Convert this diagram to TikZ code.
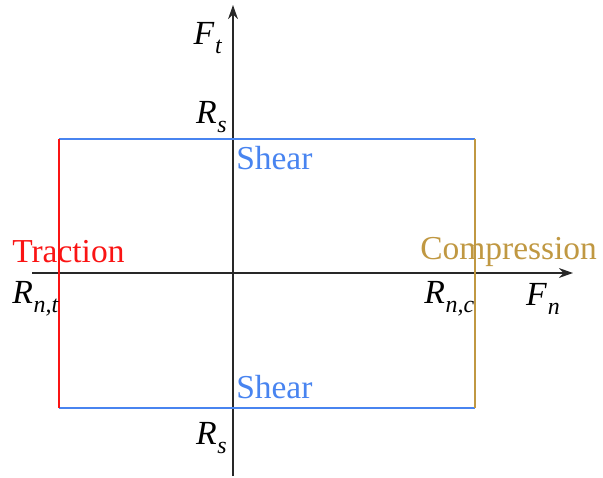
\documentclass[tikz,border=0pt]{standalone}
\usepackage{fontspec}
\setmainfont{Liberation Serif}
\usetikzlibrary{arrows.meta, positioning, calc}
\definecolor{shearblue}{RGB}{72,132,240}
\definecolor{tracred}{RGB}{250,20,20}
\definecolor{compgold}{RGB}{192,152,66}
\definecolor{axisgray}{RGB}{40,40,40}
% italic symbol with a lowered subscript
\newcommand{\forcesym}[2]{\textit{#1}\kern0.5pt\raisebox{-0.28em}{\fontsize{17}{18}\selectfont\textit{#2}}}

\begin{document}
\begin{tikzpicture}[
  x=0.025cm, y=-0.025cm,
  axis/.style={-{Stealth[length=10pt, width=7pt]}, line width=1.4pt, color=axisgray},
  side/.style={line width=2pt},
  lbl/.style={inner sep=0pt, font=\fontsize{23.8}{26}\selectfont},
  sym/.style={inner sep=0pt, font=\fontsize{24}{26}\selectfont}
]
  \useasboundingbox (0,0) rectangle (603,478);
  % axes
  \coordinate (xs) at (32,273);
  \coordinate (xe) at (573,273);
  \coordinate (ys) at (233,476);
  \coordinate (ye) at (233,5);
  \draw[axis] (xs) -- (xe);
  \draw[axis] (ys) -- (ye);

  % corners of the failure surface
  \coordinate (tl) at (59,139);
  \coordinate (tr) at (475,139);
  \coordinate (bl) at (59,408);
  \coordinate (br) at (475,408);
  \draw[side, shearblue] (tl) -- (tr);
  \draw[side, shearblue] (bl) -- (br);
  \draw[side, tracred] (tl) -- (bl);
  \draw[side, compgold] (tr) -- (br);

  % labels
  \node[sym] (ft)  at (208,38)  {\forcesym{F}{t}};
  \node[sym, anchor=east] (rst) at (227,117) {\forcesym{R}{s}};
  \node[sym, anchor=east] (rsb) at (227,438) {\forcesym{R}{s}};
  \node[lbl, shearblue, anchor=west] (sht) at (236,158) {Shear};
  \node[lbl, shearblue, anchor=west] (shb) at (236,387) {Shear};
  \node[lbl, tracred, anchor=west] (trac) at (12,252) {Traction};
  \node[lbl, compgold, anchor=west] (comp) at (420,252) {Compression};
  \node[sym, anchor=west] (rnt) at (12,299) {\forcesym{R}{n,t}};
  \node[sym, anchor=west] (rnc) at (424,299) {\forcesym{R}{n,c}};
  \node[sym] (fn) at (543,299) {\forcesym{F}{n}};
\end{tikzpicture}
\end{document}
